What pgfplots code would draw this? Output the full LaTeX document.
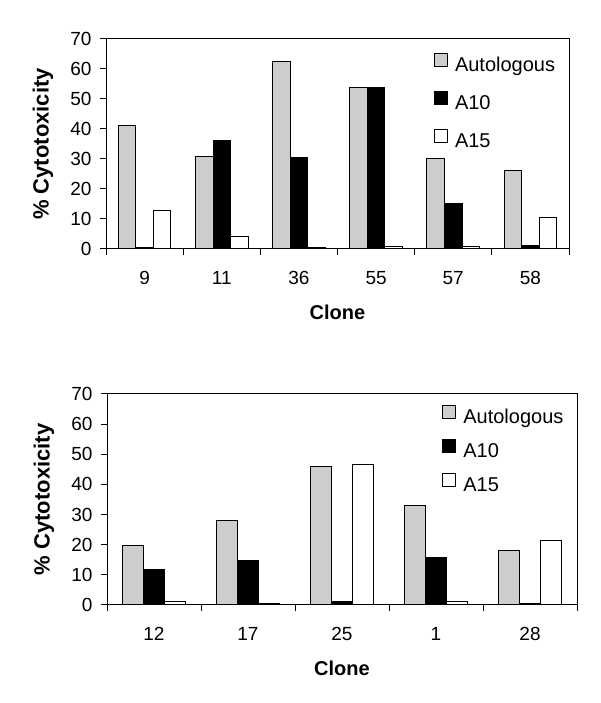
\documentclass[border=0pt]{standalone}
\usepackage{pgfplots}
\pgfplotsset{compat=1.18}
\usepackage{fontspec}
\setmainfont{Liberation Sans}
\definecolor{autofill}{RGB}{205,205,205}
\pgfplotsset{
  mybars/.style={
    scale only axis,
    ybar=0pt,
    ymin=0, ymax=70,
    ytick={0,10,...,70},
    axis line style={line width=1pt},
    every tick/.style={black, line width=1pt},
    tick align=outside,
    major tick length=6pt,
    ytick pos=left,
    xtick pos=bottom,
    /pgf/number format/assume math mode=true,
    tick label style={font=\fontsize{19}{22}\selectfont},
    yticklabel style={anchor=east, xshift=-5pt},
    major x tick style={draw=none},
    xticklabel style={anchor=center, yshift=-23pt},
    ylabel={\% Cytotoxicity},
    xlabel={Clone},
    xlabel style={font=\fontsize{20}{22}\selectfont\bfseries, at={(axis description cs:0.5,0)}, yshift=-63pt, anchor=center},
    legend cell align=left,
    legend style={draw=none, fill=none, inner sep=0pt, anchor=north west,
      font=\fontsize{20}{22}\selectfont,
      nodes={inner sep=0pt, text height=14.5pt, text depth=4.5pt},
      /tikz/column sep=7pt},
    legend image code/.code={\draw[#1, line width=1pt] (0pt,0.5pt) rectangle (13pt,13pt);},
  },
  auto/.style={fill=autofill, draw=black, line width=1pt},
  a10/.style={fill=black, draw=black, line width=1pt},
  a15/.style={fill=white, draw=black, line width=1pt},
}
\begin{document}
\begin{tikzpicture}[x=1pt,y=1pt]
\path[use as bounding box] (0,0) rectangle (600,703);
\begin{axis}[mybars,
  at={(106pt,454pt)}, anchor=south west,
  width=463pt, height=210pt,
  bar width=17.5pt,
  xmin=-0.5, xmax=5.5,
  xtick={0,...,5}, xticklabels={9,11,36,55,57,58},
  minor xtick={-0.5,0.5,...,5.5},
  minor x tick style={black, line width=1pt},
  minor tick length=6pt,
  ylabel style={font=\fontsize{22}{24}\selectfont\bfseries, at={(axis description cs:-0.136,0.5)}, anchor=center},
  legend style={at={(0.708,0.933)}, /tikz/row sep=15pt},
]
\addplot[auto] coordinates {(0,41.3) (1,30.7) (2,62.4) (3,53.8) (4,30.3) (5,26.3)};
\addplot[a10] coordinates {(0,0.5) (1,36.0) (2,30.6) (3,53.8) (4,15.3) (5,1.0)};
\addplot[a15] coordinates {(0,12.9) (1,4.2) (2,0.4) (3,0.8) (4,0.8) (5,10.4)};
\legend{Autologous,A10,A15}
\end{axis}
\begin{axis}[mybars,
  at={(107pt,98pt)}, anchor=south west,
  width=470pt, height=211pt,
  bar width=21pt,
  xmin=-0.5, xmax=4.5,
  xtick={0,...,4}, xticklabels={12,17,25,1,28},
  minor xtick={-0.5,0.5,...,4.5},
  minor x tick style={black, line width=1pt},
  minor tick length=6pt,
  ylabel style={font=\fontsize{22}{24}\selectfont\bfseries, at={(axis description cs:-0.134,0.5)}, anchor=center},
  legend style={at={(0.713,0.947)}, /tikz/row sep=11pt},
]
\addplot[auto] coordinates {(0,19.9) (1,28.1) (2,46.1) (3,32.9) (4,18.0)};
\addplot[a10] coordinates {(0,11.9) (1,14.8) (2,1.0) (3,15.7) (4,0.5)};
\addplot[a15] coordinates {(0,1.0) (1,0.5) (2,46.6) (3,1.0) (4,21.3)};
\legend{Autologous,A10,A15}
\end{axis}
\end{tikzpicture}
\end{document}
